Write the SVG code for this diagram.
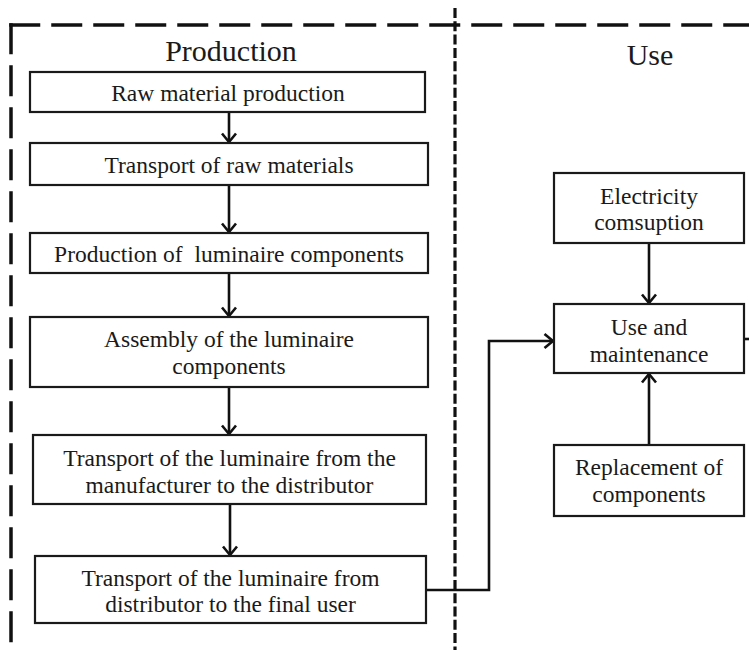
<svg xmlns="http://www.w3.org/2000/svg" width="749" height="650" viewBox="0 0 749 650">
<defs>
<style>
.box{fill:#fff;stroke:#1a1a1a;stroke-width:2.2}
.t{font-family:"Liberation Serif","Times New Roman",serif;font-size:23.5px;fill:#1a1a1a;text-anchor:middle}
.title{font-family:"Liberation Serif","Times New Roman",serif;font-size:30px;fill:#1a1a1a;text-anchor:middle}
.c{fill:none;stroke:#111;stroke-width:2.6}
.big{fill:none;stroke:#111;stroke-width:3.5;stroke-dasharray:31 11}
.fine{fill:none;stroke:#111;stroke-width:3.2;stroke-dasharray:10 3.3}
</style>
<marker id="ah" markerUnits="userSpaceOnUse" markerWidth="20" markerHeight="20" refX="10" refY="10" orient="auto">
<path d="M1.5,3 L10,10 L1.5,17" fill="none" stroke="#111" stroke-width="2.6"/>
</marker>
</defs>
<rect width="749" height="650" fill="#fff"/>
<g id="frames">
<line class="big" x1="9.25" y1="25" x2="749" y2="25"/>
<line class="big" x1="11" y1="23.25" x2="11" y2="650"/>
<line class="fine" x1="455" y1="8" x2="455" y2="650"/>
<text class="title" x="231" y="61">Production</text>
<text class="title" x="650" y="65">Use</text>
</g>
<g id="connectors">
<line class="c" x1="229" y1="112" x2="229" y2="142" marker-end="url(#ah)"/>
<line class="c" x1="229" y1="185" x2="229" y2="232" marker-end="url(#ah)"/>
<line class="c" x1="229" y1="273" x2="229" y2="316" marker-end="url(#ah)"/>
<line class="c" x1="229" y1="387" x2="229" y2="434" marker-end="url(#ah)"/>
<line class="c" x1="230" y1="504" x2="230" y2="555" marker-end="url(#ah)"/>
<polyline class="c" points="426,590 489,590 489,341 553,341" marker-end="url(#ah)"/>
<line class="c" x1="649" y1="243" x2="649" y2="303" marker-end="url(#ah)"/>
<line class="c" x1="649" y1="445" x2="649" y2="374" marker-end="url(#ah)"/>
<line class="c" x1="744" y1="339" x2="749" y2="339"/>
</g>
<g id="n1"><rect class="box" x="30" y="72" width="395" height="40"/><text class="t" x="228" y="101">Raw material production</text></g>
<g id="n2"><rect class="box" x="30" y="143" width="398" height="42"/><text class="t" x="229" y="173">Transport of raw materials</text></g>
<g id="n3"><rect class="box" x="30" y="233" width="398" height="40"/><text class="t" x="229" y="262" xml:space="preserve">Production of  luminaire components</text></g>
<g id="n4"><rect class="box" x="30" y="317" width="398" height="70"/><text class="t" x="229" y="347">Assembly of the luminaire</text><text class="t" x="229" y="374">components</text></g>
<g id="n5"><rect class="box" x="33" y="435" width="393" height="69"/><text class="t" x="229.5" y="466">Transport of the luminaire from the</text><text class="t" x="229.5" y="493">manufacturer to the distributor</text></g>
<g id="n6"><rect class="box" x="35" y="556" width="391" height="67"/><text class="t" x="230.5" y="586">Transport of the luminaire from</text><text class="t" x="230.5" y="612">distributor to the final user</text></g>
<g id="n7"><rect class="box" x="554" y="173" width="190" height="70"/><text class="t" x="649" y="204">Electricity</text><text class="t" x="649" y="230">comsuption</text></g>
<g id="n8"><rect class="box" x="554" y="304" width="190" height="69"/><text class="t" x="649" y="335">Use and</text><text class="t" x="649" y="362">maintenance</text></g>
<g id="n9"><rect class="box" x="554" y="445" width="190" height="71"/><text class="t" x="649" y="475">Replacement of</text><text class="t" x="649" y="502">components</text></g>
</svg>
